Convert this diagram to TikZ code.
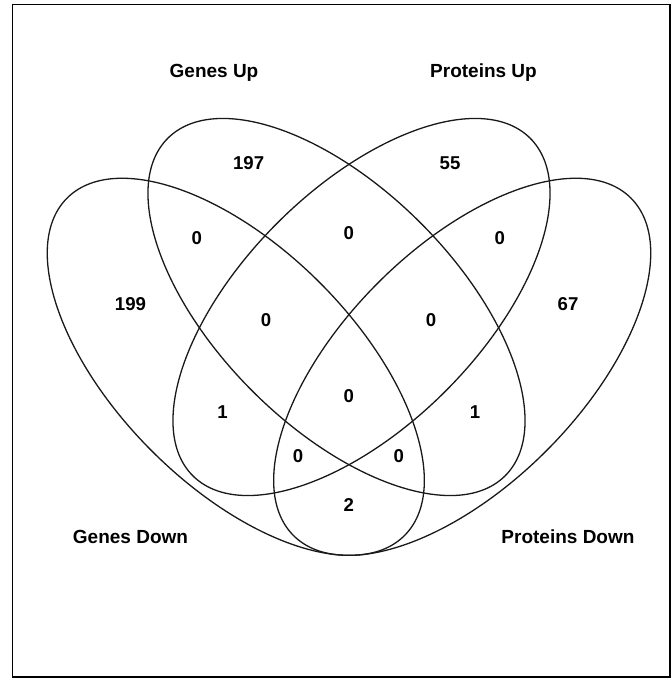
\documentclass[tikz,border=0pt]{standalone}
\usepackage{fontspec}
\setmainfont{Liberation Sans}
\begin{document}
\begin{tikzpicture}[x=1pt,y=1pt,
  venn/.style={line width=1.3pt, draw=black!90},
  lbl/.style={anchor=base, inner sep=0pt, font=\fontsize{19}{22}\selectfont\bfseries},
  num/.style={anchor=base, inner sep=0pt, font=\fontsize{18.6}{22}\selectfont\bfseries}]
\useasboundingbox (0,0) rectangle (671,678);
\draw[line width=1.7pt] (12.5,673.5) rectangle (670,1);
% ellipses
\draw[venn, rotate around={-45:(235.8,311.2)}] (235.8,311.2) ellipse [x radius=238.6, y radius=118.9];
\draw[venn, rotate around={-45:(336.5,371)}] (336.5,371) ellipse [x radius=238.6, y radius=118.9];
\draw[venn, rotate around={45:(361.5,371)}] (361.5,371) ellipse [x radius=238.6, y radius=118.9];
\draw[venn, rotate around={45:(462.2,311.2)}] (462.2,311.2) ellipse [x radius=238.6, y radius=118.9];
% set labels
\node[lbl] (gu) at (214,600.5) {Genes Up};
\node[lbl] (pu) at (483.5,600.5) {Proteins Up};
\node[lbl] (gd) at (130.5,134) {Genes Down};
\node[lbl] (pd) at (568,134) {Proteins Down};
% counts
\node[num] (n1) at (248.6,508.6) {197};
\node[num] (n2) at (450,508.6) {55};
\node[num] (n3) at (196.8,433.7) {0};
\node[num] (n4) at (348.7,438) {0};
\node[num] (n5) at (499.8,433.7) {0};
\node[num] (n6) at (130.5,367.4) {199};
\node[num] (n7) at (266,351.2) {0};
\node[num] (n8) at (431,351.2) {0};
\node[num] (n9) at (568,367.4) {67};
\node[num] (n10) at (348.7,275.4) {0};
\node[num] (n11) at (222.5,259.2) {1};
\node[num] (n12) at (475,259.2) {1};
\node[num] (n13) at (298,215.5) {0};
\node[num] (n14) at (398.8,215.5) {0};
\node[num] (n15) at (348.7,166.2) {2};
\end{tikzpicture}
\end{document}
